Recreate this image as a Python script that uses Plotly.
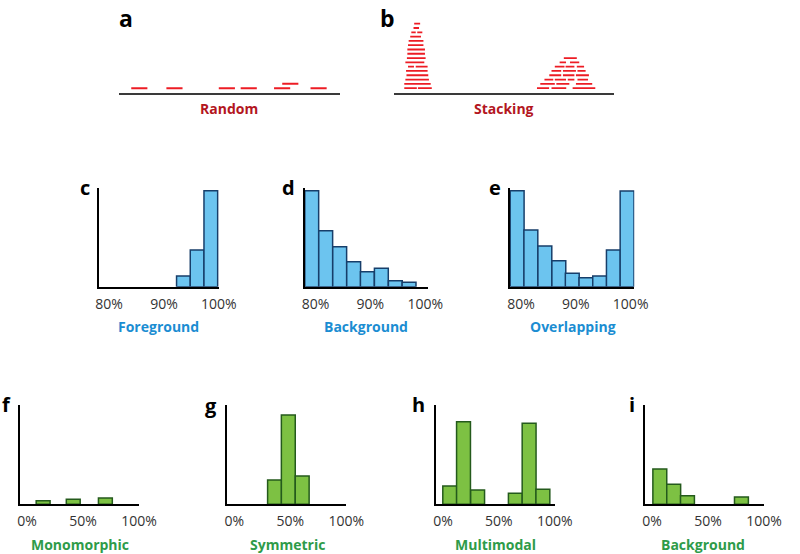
import plotly.graph_objects as go

W, H = 800, 554

# ---- panel a: reads placed at random (start position, stack level) ----
a_starts = [5.6, 21.5, 45.2, 55.1, 70.2, 73.9, 86.7]
a_levels = [1, 1, 1, 1, 1, 2, 1]
a_read_len = 7.3

# ---- panel b: reads stacking, one list of (start, end) pieces per level ----
b_left_rows = [
    [(4.6, 10.3), (10.8, 17.1)],
    [(4.6, 16.6)],
    [(5.1, 15.8)],
    [(5.6, 15.5)],
    [(5.4, 15.2)],
    [(6.3, 9.0), (9.8, 15.2)],
    [(5.1, 13.7)],
    [(5.8, 14.3)],
    [(6.0, 14.0)],
    [(6.0, 14.0)],
    [(6.3, 13.3)],
    [(6.6, 13.3)],
    [(7.3, 12.2)],
    [(7.8, 9.8), (10.5, 12.8)],
    [(8.8, 11.3)],
    [(9.1, 11.8)],
]
b_right_rows = [
    [(64.9, 70.4), (71.5, 78.2), (81.1, 91.4)],
    [(66.4, 73.0), (73.7, 79.6), (82.6, 90.0)],
    [(68.3, 72.3), (73.0, 78.1), (78.9, 81.9), (83.3, 88.1)],
    [(70.5, 75.9), (76.7, 81.9), (82.6, 88.5)],
    [(71.5, 75.9), (76.7, 82.6), (83.3, 87.0)],
    [(73.0, 77.4), (77.9, 81.9), (83.0, 86.3)],
    [(75.2, 78.1), (79.9, 84.1)],
    [(77.1, 83.0)],
]

# ---- panels c-e: high-frequency histograms ----
hi_tickvals = [80, 90, 100]
hi_ticktext = ["80%", "90%", "100%"]
c_bins = [93.55, 96.05, 98.55]
c_counts = [10.9, 37.3, 97.6]
d_bins = [79.3, 81.85, 84.4, 86.95, 89.45, 92.0, 94.55, 97.05]
d_counts = [97.6, 56.9, 40.7, 25.4, 15.2, 18.7, 6.1, 4.5]
e_bins = [79.3, 81.8, 84.35, 86.9, 89.35, 91.85, 94.35, 96.85, 99.35]
e_counts = [97.6, 57.6, 41.4, 26.4, 13.6, 9.1, 10.9, 37.3, 97.3]

# ---- panels f-i: full-range histograms ----
full_tickvals = [0, 50, 100]
full_ticktext = ["0%", "50%", "100%"]
f_bins = [14.3, 41.2, 69.9]
f_counts = [3.6, 5.0, 6.3]
g_bins = [36.0, 48.3, 60.7]
g_counts = [24.5, 89.9, 28.5]
h_bins = [6.1, 18.4, 31.0, 64.7, 77.0, 89.3]
h_counts = [18.4, 83.2, 14.4, 11.1, 81.6, 15.1]
i_bins = [7.0, 19.4, 31.7, 79.9]
i_counts = [35.5, 20.1, 8.7, 7.4]

RED = "#ed1c24"
DARK_RED = "#b3161e"
BLUE_FILL = "#6cc4ef"
BLUE_LINE = "#173e6a"
BLUE_TXT = "#1b8dd2"
GREEN_FILL = "#7dc143"
GREEN_LINE = "#245a1c"
GREEN_TXT = "#2e9b49"
FONT = "Open Sans"


def xdom(x0, x1):
    return [x0 / W, x1 / W]


def ydom(top, bottom):
    return [1 - bottom / H, 1 - top / H]


def ax_names(i):
    s = "" if i == 1 else str(i)
    return "x" + s, "y" + s, "xaxis" + s, "yaxis" + s


fig = go.Figure()
layout_axes = {}

# --- a and b: read layouts ---
read_panels = [
    (1, (119, 346)),
    (2, (401.7, 627.7)),
]
for idx, (x0, x1) in read_panels:
    xa, ya, xk, yk = ax_names(idx)
    layout_axes[xk] = dict(domain=xdom(x0, x1), range=[0, 100], anchor=ya,
                           showline=True, linecolor="#3a3a3a", linewidth=1.5,
                           showgrid=False, zeroline=False, showticklabels=False)
    layout_axes[yk] = dict(domain=ydom(19.4, 93.3), range=[-0.2, 17], anchor=xa,
                           showline=False, showgrid=False, zeroline=False,
                           showticklabels=False)

xs, ys = [], []
for s, lv in zip(a_starts, a_levels):
    xs += [s, s + a_read_len, None]
    ys += [lv, lv, None]
fig.add_trace(go.Scatter(x=xs, y=ys, mode="lines", line=dict(color=RED, width=2),
                         xaxis="x", yaxis="y", showlegend=False, hoverinfo="skip"))

xs, ys = [], []
for rows in (b_left_rows, b_right_rows):
    for lv, pieces in enumerate(rows, start=1):
        for s, e in pieces:
            xs += [s, e, None]
            ys += [lv, lv, None]
fig.add_trace(go.Scatter(x=xs, y=ys, mode="lines", line=dict(color=RED, width=1.8),
                         xaxis="x2", yaxis="y2", showlegend=False, hoverinfo="skip"))

# --- histograms ---
hist_panels = [
    # idx, bins, counts, width, x px, y px (top, bottom), x range, ticks, colours
    (3, c_bins, c_counts, 2.5, (98.3, 221.7), (188.3, 286.7), [78.1, 100.02], hi_tickvals, hi_ticktext, BLUE_FILL, BLUE_LINE),
    (4, d_bins, d_counts, 2.53, (310, 436.7), (188.3, 286.7), [78.05, 100.55], hi_tickvals, hi_ticktext, BLUE_FILL, BLUE_LINE),
    (5, e_bins, e_counts, 2.53, (520.7, 648.3), (188.3, 286.7), [78.0, 100.66], hi_tickvals, hi_ticktext, BLUE_FILL, BLUE_LINE),
    (6, f_bins, f_counts, 12.4, (17.3, 139.8), (405, 504.3), [-6.5, 100.05], full_tickvals, full_ticktext, GREEN_FILL, GREEN_LINE),
    (7, g_bins, g_counts, 12.4, (230, 352.5), (405, 504.3), [-6.5, 100.05], full_tickvals, full_ticktext, GREEN_FILL, GREEN_LINE),
    (8, h_bins, h_counts, 12.4, (444.3, 566.8), (405, 504.3), [-6.5, 100.05], full_tickvals, full_ticktext, GREEN_FILL, GREEN_LINE),
    (9, i_bins, i_counts, 12.4, (659, 781.5), (405, 504.3), [-6.5, 100.05], full_tickvals, full_ticktext, GREEN_FILL, GREEN_LINE),
]
for idx, bins, counts, bw, xpx, ypx, xr, tv, tt, fill, edge in hist_panels:
    xa, ya, xk, yk = ax_names(idx)
    fig.add_trace(go.Bar(x=bins, y=counts, width=[bw] * len(bins),
                         marker=dict(color=fill, line=dict(color=edge, width=1.5)),
                         xaxis=xa, yaxis=ya, showlegend=False, hoverinfo="skip"))
    layout_axes[xk] = dict(domain=xdom(*xpx), range=xr, anchor=ya,
                           showline=True, linecolor="black", linewidth=2,
                           showgrid=False, zeroline=False,
                           tickvals=tv, ticktext=tt, ticks="outside", ticklen=3,
                           tickcolor="rgba(0,0,0,0)",
                           tickfont=dict(family=FONT, size=14, color="#333333"))
    layout_axes[yk] = dict(domain=ydom(*ypx), range=[0, 100], anchor=xa,
                           showline=True, linecolor="black", linewidth=2,
                           showgrid=False, zeroline=False, showticklabels=False)

annotations = []


def add_text(txt, x, y, size, color, yanchor="middle"):
    annotations.append(dict(text="<b>%s</b>" % txt,
                            x=x / W, y=1 - y / H, xref="paper", yref="paper",
                            xanchor="center", yanchor=yanchor, showarrow=False,
                            font=dict(family=FONT, size=size, color=color)))


# panel letters (a and b hug the top edge)
add_text("a", 126.5, 0, 23, "black", yanchor="top")
add_text("b", 395, 0, 23, "black", yanchor="top")
for letter, x, y in [("c", 83.8, 188), ("d", 293, 188), ("e", 505, 188),
                     ("f", 3.7, 404.7), ("g", 213.3, 405),
                     ("h", 427, 404.7), ("i", 645.8, 404)]:
    add_text(letter, x, y, 20, "black")

# panel captions
add_text("Random", 232, 108.4, 14, DARK_RED)
add_text("Stacking", 515, 108, 14, DARK_RED)
add_text("Foreground", 159.5, 326.8, 14, BLUE_TXT)
add_text("Background", 373, 326.8, 14, BLUE_TXT)
add_text("Overlapping", 585, 326.8, 14, BLUE_TXT)
add_text("Monomorphic", 79, 544.4, 14, GREEN_TXT)
add_text("Symmetric", 291.7, 544.4, 14, GREEN_TXT)
add_text("Multimodal", 505.7, 544.4, 14, GREEN_TXT)
add_text("Background", 719, 544.4, 14, GREEN_TXT)

fig.update_layout(
    width=W, height=H,
    margin=dict(l=0, r=0, t=0, b=0),
    paper_bgcolor="white", plot_bgcolor="white",
    showlegend=False,
    annotations=annotations,
    **layout_axes,
)

# the page's default body margin would push the figure 8px down and right
fig.write_html("out.html", config={"displayModeBar": False},
               post_script="document.body.style.margin='0';")
